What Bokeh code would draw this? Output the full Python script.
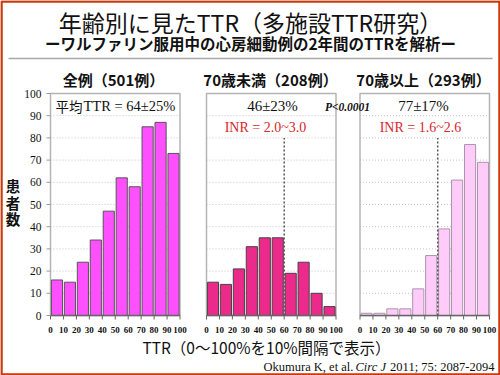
from bokeh.plotting import figure
from bokeh.models import Range1d
from bokeh.core.properties import value
from bokeh.embed import file_html
from bokeh.resources import INLINE

# ---------------- data ----------------
bin_starts = [0, 10, 20, 30, 40, 50, 60, 70, 80, 90]
x_ticks = [0, 10, 20, 30, 40, 50, 60, 70, 80, 90, 100]
x_tick_labels = ["0", "10", "20", "30", "40", "50", "60", "70", "80", "90", "100"]
y_ticks = [0, 10, 20, 30, 40, 50, 60, 70, 80, 90, 100]
y_tick_labels = ["0", "10", "20", "30", "40", "50", "60", "70", "80", "90", "100"]

counts_all = [16, 15, 24, 34, 47, 62, 58, 85, 87, 73]        # 全例 501
counts_under70 = [15, 14, 21, 31, 35, 35, 19, 24, 10, 4]     # 70歳未満 208
counts_over70 = [1, 1, 3, 3, 12, 27, 39, 61, 77, 69]         # 70歳以上 293

panel_titles = ["全例（501例）", "70歳未満（208例）", "70歳以上（293例）"]
mean_texts = ["46±23%", "77±17%"]
inr_texts = ["INR = 2.0~3.0", "INR = 1.6~2.6"]
inr_cut = 60
inr_line_top = 80
p_value_text = "P<0.0001"

title_text = "年齢別に見たTTR（多施設TTR研究）"
subtitle_text = "ーワルファリン服用中の心房細動例の2年間のTTRを解析ー"
y_label_chars = ["患", "者", "数"]
x_label_text = "TTR（0～100%を10%間隔で表示）"
cite_parts = ["Okumura K, et al.", "Circ J", "2011; 75: 2087-2094"]

# ---------------- geometry / style ----------------
W, H = 500, 375
panel_left_px = [50, 206, 359.5]
panel_w_px = 129.5
base_px = 315
top_px = 93
sx = panel_w_px / 100.0
sy = (base_px - top_px) / 100.0

SANS = value("Noto Sans CJK JP")
SERIF = value("Liberation Serif")

p = figure(width=W, height=H, x_range=Range1d(0, W), y_range=Range1d(H, 0),
           output_backend="svg", toolbar_location=None, min_border=0,
           x_axis_location=None, y_axis_location=None, outline_line_color=None,
           background_fill_color="white", border_fill_color="white")
p.xgrid.visible = False
p.ygrid.visible = False

p.extra_x_ranges = {f"p{i}": Range1d(-x0 / sx, (W - x0) / sx) for i, x0 in enumerate(panel_left_px)}
p.extra_y_ranges = {"cnt": Range1d(-(H - base_px) / sy, base_px / sy)}

# outer border
p.quad(left=1, right=499, top=1, bottom=374, fill_color=None, line_color="#cc3a0c", line_width=2.5)

# header
p.text(x=[250], y=[21], text=[title_text], text_font=SANS, text_font_size="23px",
       text_align="center", text_baseline="middle", text_color="#111111")
p.text(x=[250], y=[42], text=[subtitle_text], text_font=SANS, text_font_size="15.5px",
       text_font_style="bold", text_align="center", text_baseline="middle", text_color="#111111")
p.segment(x0=[8], x1=[492], y0=[58], y1=[58], line_color="#a8a8a8", line_width=1.5)

fills = ["#ff50ff", "#ec2a8c", "#ffccfa"]
outlines = ["#555555", "#444444", "#ab94ab"]
series = [counts_all, counts_under70, counts_over70]
title_cx = [113, 270, 423]

grid_vals = y_ticks[1:-1]
for i in range(3):
    xr = f"p{i}"
    # gridlines
    p.segment(x0=[0] * len(grid_vals), x1=[100] * len(grid_vals), y0=grid_vals, y1=grid_vals,
              x_range_name=xr, y_range_name="cnt", line_color="#c4c4c4", line_dash="1 2", line_width=1)
    # frame
    p.quad(left=[0], right=[100], bottom=[0], top=[100], x_range_name=xr, y_range_name="cnt",
           fill_color=None, line_color="#b4b4b4", line_width=1.5)
    # bars
    p.vbar(x=[b + 5 for b in bin_starts], top=series[i], bottom=0, width=8.6,
           x_range_name=xr, y_range_name="cnt", fill_color=fills[i], line_color=outlines[i], line_width=1)
    # x axis line + ticks
    p.segment(x0=[0], x1=[100], y0=[0], y1=[0], x_range_name=xr, y_range_name="cnt",
              line_color="#666666", line_width=1.5)
    p.segment(x0=x_ticks, x1=x_ticks, y0=[0] * len(x_ticks), y1=[-4 / sy] * len(x_ticks),
              x_range_name=xr, y_range_name="cnt", line_color="#666666", line_width=1)
    p.text(x=x_ticks, y=[0] * len(x_ticks), text=x_tick_labels, y_offset=14,
           x_range_name=xr, y_range_name="cnt", text_font=SERIF, text_font_size="9px",
           text_font_style="bold", text_align="center", text_baseline="middle", text_color="#111111")
    # panel title
    p.text(x=[title_cx[i]], y=[79], text=[panel_titles[i]], text_font=SANS, text_font_size="15px",
           text_font_style="bold", text_align="center", text_baseline="middle", text_color="#111111")

# y axis of first panel
p.segment(x0=[0] * len(y_ticks), x1=[-4 / sx] * len(y_ticks), y0=y_ticks, y1=y_ticks,
          x_range_name="p0", y_range_name="cnt", line_color="#999999", line_width=1)
p.text(x=[0] * len(y_ticks), y=y_ticks, text=y_tick_labels, x_offset=-9,
       x_range_name="p0", y_range_name="cnt", text_font=SERIF, text_font_size="11.5px",
       text_align="right", text_baseline="middle", text_color="#111111")

# INR reference lines
for xr in ["p1", "p2"]:
    p.segment(x0=[inr_cut], x1=[inr_cut], y0=[0], y1=[inr_line_top], x_range_name=xr, y_range_name="cnt",
              line_color="#555555", line_dash="2 2", line_width=1.5)

# annotations
p.text(x=[55], y=[105], text=["平均"], text_font=SANS, text_font_size="13.5px",
       text_align="left", text_baseline="middle", text_color="#111111")
p.text(x=[83], y=[105], text=["TTR = 64±25%"], text_font=SERIF, text_font_size="14.5px",
       text_align="left", text_baseline="middle", text_color="#111111")
p.text(x=[272, 423], y=[105, 105], text=mean_texts, text_font=SERIF, text_font_size="15px",
       text_align="center", text_baseline="middle", text_color="#111111")
p.text(x=[265, 420], y=[127, 127], text=inr_texts, text_font=SERIF, text_font_size="14px",
       text_align="center", text_baseline="middle", text_color="#d8262b")
p.text(x=[347], y=[106], text=[p_value_text], text_font=SERIF, text_font_size="11.5px",
       text_font_style="bold italic", text_align="center", text_baseline="middle", text_color="#111111")

# y label (vertical stacked)
p.text(x=[12.5] * len(y_label_chars), y=[185 + 16.5 * k for k in range(len(y_label_chars))], text=y_label_chars,
       text_font=SANS, text_font_size="14.5px", text_font_style="bold", text_align="center",
       text_baseline="middle", text_color="#111111")

# x label
p.text(x=[266], y=[346], text=[x_label_text], text_font=SANS, text_font_size="15.5px",
       text_align="center", text_baseline="middle", text_color="#111111")

# citation
p.text(x=[263], y=[366], text=[cite_parts[0]], text_font=SERIF, text_font_size="12.5px",
       text_align="left", text_baseline="middle", text_color="#111111")
p.text(x=[355], y=[366], text=[cite_parts[1]], text_font=SERIF, text_font_size="12.5px",
       text_font_style="italic", text_align="left", text_baseline="middle", text_color="#111111")
p.text(x=[494], y=[366], text=[cite_parts[2]], text_font=SERIF, text_font_size="12.5px",
       text_align="right", text_baseline="middle", text_color="#111111")

open("out.html", "w").write(file_html(p, INLINE))
